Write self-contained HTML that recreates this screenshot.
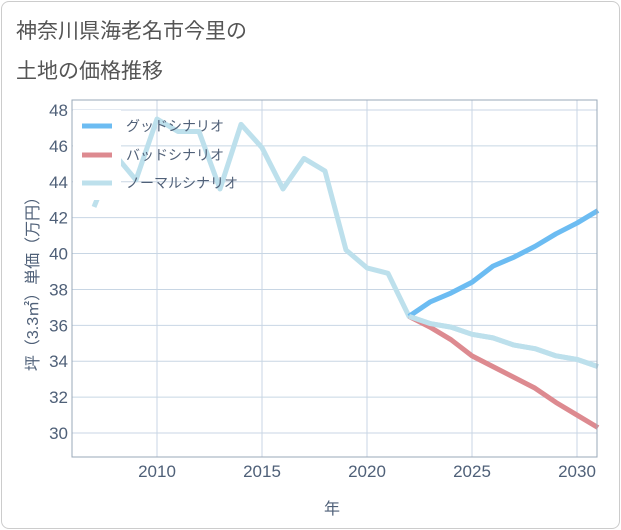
<!DOCTYPE html>
<html><head><meta charset="utf-8"><style>
body{margin:0;background:#fff;font-family:"Liberation Sans","Noto Sans CJK JP",sans-serif}
#frame{position:absolute;left:1px;top:1px;width:617px;height:526px;border:1px solid #ccc;border-radius:8px;background:#fff}
</style></head><body>
<div id="frame"></div>
<svg id="c" width="621" height="530" style="position:absolute;left:0;top:0">
<text x="16" y="38" font-size="21" fill="#555">神奈川県海老名市今里の</text>
<text x="16" y="78" font-size="21" fill="#555">土地の価格推移</text>
<g id="grid"></g><g id="lines"></g><g id="axes"></g>
<text x="332" y="514" font-size="16" fill="#4f6078" text-anchor="middle">年</text>
<text transform="translate(38,280) rotate(-90)" font-size="16" fill="#4f6078" text-anchor="middle">坪（3.3㎡）単価（万円）</text>
</svg>
<script>
const years=[2007,2008,2009,2010,2011,2012,2013,2014,2015,2016,2017,2018,2019,2020,2021,2022,2023,2024,2025,2026,2027,2028,2029,2030,2031];
const normal=[42.6,45.5,44.1,47.5,46.8,46.8,43.6,47.2,45.9,43.6,45.3,44.6,40.2,39.2,38.9,36.5,36.1,35.9,35.5,35.3,34.9,34.7,34.3,34.1,33.7];
const futureYears=[2022,2023,2024,2025,2026,2027,2028,2029,2030,2031];
const good=[36.5,37.3,37.8,38.4,39.3,39.8,40.4,41.1,41.7,42.4];
const bad=[36.5,35.9,35.2,34.3,33.7,33.1,32.5,31.7,31.0,30.3];
const xTicks=[2010,2015,2020,2025,2030];
const yTicks=[30,32,34,36,38,40,42,44,46,48];
const NS='http://www.w3.org/2000/svg';
const X=v=>157+(v-2010)*21, Y=v=>433-(v-30)*(323/18);
function mk(t,a,p){const e=document.createElementNS(NS,t);for(const k in a)e.setAttribute(k,a[k]);p.appendChild(e);return e;}
const grid=document.getElementById('grid'),axes=document.getElementById('axes'),lines=document.getElementById('lines');
const L=72,R=597,T=100,B=457;
yTicks.forEach(v=>{const l=mk('line',{x1:L,x2:R,y1:Y(v),y2:Y(v),stroke:'#c8d6e4','stroke-width':1},grid);

const t=mk('text',{x:L-4,y:Y(v)+6,'font-size':17,fill:'#4f6078','text-anchor':'end'},axes);t.textContent=v;
});
xTicks.forEach(v=>{const l=mk('line',{x1:X(v),x2:X(v),y1:T,y2:B,stroke:'#c8d6e4','stroke-width':1},grid);

const t=mk('text',{x:X(v),y:B+20,'font-size':17,fill:'#4f6078','text-anchor':'middle'},axes);t.textContent=v;
});
const fr=mk('rect',{x:L,y:T,width:R-L,height:B-T,fill:'none',stroke:'#9aa8b8','stroke-width':1},axes);

function series(xs,ys,c,name){const p=mk('polyline',{points:xs.map((x,i)=>X(x)+','+Y(ys[i])).join(' '),fill:'none',stroke:c,'stroke-width':5,'stroke-linejoin':'round'},lines);
}
series(years,normal,'#bde0ec','normal-scenario-line');
series(futureYears,bad,'#dd8a90','bad-scenario-line');
series(futureYears,good,'#6cbcf2','good-scenario-line');
series(futureYears,normal.slice(15),'#bde0ec','normal-scenario-future');
const lg=mk('rect',{x:73,y:110,width:48,height:90,fill:'#fff'},lines);

[['グッドシナリオ','#6cbcf2',126],['バッドシナリオ','#dd8a90',155],['ノーマルシナリオ','#bde0ec',183]].forEach(([n,c,y])=>{
const ln=mk('line',{x1:82,x2:112,y1:y,y2:y,stroke:c,'stroke-width':5},lines);

const t=mk('text',{x:126,y:y+5,'font-size':14,fill:'#506078'},lines);t.textContent=n;
});
</script>
</body></html>
